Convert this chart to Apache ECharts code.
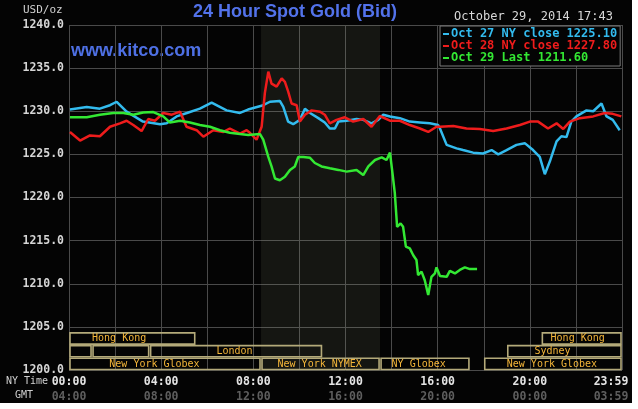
<!DOCTYPE html>
<html>
<head>
<meta charset="utf-8" />
<title>24 Hour Spot Gold</title>
<script src="https://cdn.jsdelivr.net/npm/echarts@6/dist/echarts.min.js"></script>
<style>
  body { margin: 0; background: #fff; }
  #main { width: 632px; height: 403px; background: #040404; }
</style>
</head>
<body>
<div id="main"></div>
<script type="text/javascript">

  // hours after 00:00 NY time, price in USD/oz
  var oct27 = [[0.04,1230.2],[0.77,1230.5],[1.34,1230.3],[1.78,1230.7],[2.07,1231.1],[2.5,1229.95],[3.21,1228.8],[3.95,1228.5],[4.24,1228.6],[4.67,1229.4],[5.12,1229.8],[5.68,1230.3],[6.19,1231.0],[6.84,1230.1],[7.42,1229.8],[7.77,1230.2],[8.43,1230.7],[8.72,1231.1],[9.15,1231.2],[9.3,1230.5],[9.51,1228.8],[9.73,1228.5],[10.02,1229.0],[10.24,1230.3],[10.46,1229.8],[10.82,1229.2],[11.1,1228.7],[11.32,1228.0],[11.54,1228.0],[11.69,1228.8],[12.05,1228.9],[12.48,1229.1],[12.77,1229.0],[13.13,1228.6],[13.42,1229.0],[13.64,1229.6],[13.93,1229.4],[14.36,1229.2],[14.79,1228.8],[15.23,1228.7],[15.66,1228.6],[16.02,1228.4],[16.1,1228.0],[16.39,1226.1],[16.82,1225.7],[17.1,1225.5],[17.54,1225.2],[17.97,1225.1],[18.34,1225.5],[18.63,1225.0],[18.99,1225.5],[19.42,1226.1],[19.78,1226.3],[20.14,1225.5],[20.43,1224.7],[20.65,1222.7],[20.87,1224.2],[21.16,1226.5],[21.37,1227.1],[21.59,1227.0],[21.8,1228.8],[22.02,1229.4],[22.46,1230.1],[22.75,1230.0],[23.11,1230.9],[23.33,1229.4],[23.6,1229.0],[23.9,1227.8]];

  var oct28 = [[0.04,1227.6],[0.48,1226.6],[0.91,1227.2],[1.34,1227.1],[1.78,1228.2],[2.21,1228.6],[2.5,1228.9],[2.79,1228.4],[3.15,1227.7],[3.44,1229.1],[3.73,1228.9],[4.09,1229.8],[4.46,1229.6],[4.82,1229.95],[5.1,1228.2],[5.54,1227.8],[5.83,1227.05],[6.26,1227.8],[6.7,1227.6],[6.98,1228.0],[7.42,1227.4],[7.71,1227.8],[7.85,1227.5],[8.14,1226.7],[8.36,1228.2],[8.5,1232.1],[8.65,1234.6],[8.79,1233.2],[9.01,1232.85],[9.23,1233.8],[9.37,1233.4],[9.51,1232.3],[9.66,1230.9],[9.88,1230.7],[10.02,1228.8],[10.24,1229.6],[10.53,1230.1],[10.89,1229.95],[11.1,1229.6],[11.32,1228.6],[11.61,1229.0],[11.97,1229.3],[12.33,1228.8],[12.77,1229.1],[13.13,1228.2],[13.49,1229.45],[13.93,1228.9],[14.36,1228.9],[14.79,1228.4],[15.23,1228.0],[15.59,1227.6],[15.95,1228.2],[16.1,1228.2],[16.68,1228.3],[17.25,1228.0],[17.83,1227.95],[18.41,1227.7],[18.99,1228.0],[19.57,1228.4],[20.0,1228.8],[20.36,1228.8],[20.79,1228.0],[21.16,1228.6],[21.45,1227.95],[21.74,1228.8],[22.17,1229.2],[22.75,1229.4],[23.25,1229.8],[23.6,1229.7],[23.97,1229.4]];

  var oct29 = [[0.04,1229.3],[0.77,1229.3],[1.34,1229.6],[1.92,1229.8],[2.36,1229.8],[2.79,1229.6],[3.22,1229.85],[3.66,1229.9],[4.09,1229.4],[4.38,1228.7],[4.82,1228.9],[5.25,1228.7],[5.68,1228.4],[6.12,1228.2],[6.55,1227.8],[6.98,1227.5],[7.42,1227.35],[7.78,1227.25],[7.85,1227.1],[8.29,1227.35],[8.43,1226.7],[8.65,1224.7],[8.79,1223.6],[8.94,1222.2],[9.15,1222.0],[9.37,1222.4],[9.59,1223.2],[9.8,1223.6],[9.95,1224.7],[10.17,1224.7],[10.46,1224.6],[10.67,1224.0],[10.96,1223.6],[11.32,1223.4],[11.69,1223.2],[12.05,1223.0],[12.48,1223.2],[12.77,1222.6],[12.99,1223.6],[13.28,1224.35],[13.57,1224.65],[13.78,1224.35],[13.93,1225.2],[14.04,1222.8],[14.14,1220.5],[14.24,1216.6],[14.39,1217.0],[14.5,1216.6],[14.62,1214.3],[14.79,1214.1],[14.94,1213.3],[15.08,1212.75],[15.15,1211.0],[15.3,1211.4],[15.44,1210.4],[15.59,1208.7],[15.73,1210.8],[15.88,1211.2],[15.95,1211.9],[16.1,1210.9],[16.39,1210.8],[16.53,1211.5],[16.75,1211.2],[16.96,1211.6],[17.18,1211.9],[17.4,1211.7],[17.71,1211.7]];

  var seriesNames = ['Oct 27 NY close 1225.10', 'Oct 28 NY close 1227.80', 'Oct 29 Last 1211.60'];
  var nyTicks = ['00:00', '04:00', '08:00', '12:00', '16:00', '20:00', '23:59'];
  var gmtTicks = ['04:00', '08:00', '12:00', '16:00', '20:00', '00:00', '03:59'];

  // NYMEX pit hours (shaded)
  var nymexHours = [8 + 20 / 60, 13.5];

  // market sessions: row, from, to, label, label starts at
  var sessions = [
    [0, 0, 5.5, 'Hong Kong', 1.0],
    [0, 20.5, 24, 'Hong Kong', 20.9],
    [1, 0, 1, '', 0],
    [1, 1, 3.5, '', 0],
    [1, 3.5, 11, 'London', 6.4],
    [1, 19, 24, 'Sydney', 20.2],
    [2, 0, 8 + 20 / 60, 'New York Globex', 1.75],
    [2, 8 + 20 / 60, 13.5, 'New York NYMEX', 9.05],
    [2, 13.5, 17.4, 'NY Globex', 14.0],
    [2, 18, 24, 'New York Globex', 19.0]
  ];

  var colors = ['#33bbee', '#ee1c1c', '#33e833'];
  var mono = 'DejaVu Sans Mono';
  var gridColor = '#4a4a4a';

  var myChart = echarts.init(document.getElementById('main'));

  function lineSeries(i, data) {
    return {
      name: seriesNames[i],
      type: 'line',
      data: data,
      color: colors[i],
      showSymbol: false,
      lineStyle: { width: 2.5, color: colors[i] },
      emphasis: { disabled: true },
      z: 3 + i
    };
  }

  myChart.setOption({
    animation: false,
    backgroundColor: '#040404',
    title: {
      text: '24 Hour Spot Gold (Bid)',
      left: 193,
      top: 3,
      padding: 0,
      textStyle: { color: '#5272ea', fontFamily: 'Liberation Sans', fontSize: 18, fontWeight: 'bold' }
    },
    legend: {
      orient: 'vertical',
      left: 440,
      top: 26,
      padding: [2, 3, 2, 3],
      itemGap: 0,
      itemWidth: 6,
      itemHeight: 2,
      icon: 'rect',
      backgroundColor: '#040404',
      borderColor: '#7a7a7a',
      borderWidth: 1,
      selectedMode: false,
      textStyle: { fontFamily: mono, fontSize: 12, fontWeight: 'bold', lineHeight: 12, padding: [0, 0, 0, -3] },
      data: seriesNames.map(function (n, i) {
        return { name: n, textStyle: { color: colors[i] } };
      })
    },
    grid: { left: 69, right: 10, top: 25, bottom: 33 },
    xAxis: [{
      type: 'value',
      min: 0,
      max: 24,
      interval: 2,
      axisLine: { show: false },
      axisTick: { show: false },
      splitLine: { show: true, lineStyle: { color: gridColor, width: 1 } },
      axisLabel: {
        margin: 6,
        color: '#e4e4e4',
        fontFamily: mono,
        fontSize: 11.5,
        fontWeight: 'bold',
        formatter: function (v) {
          if (v % 4 !== 0) return '';
          if (v === 24) return '{e|' + nyTicks[6] + '}';
          return nyTicks[v / 4];
        },
        rich: { e: { color: '#e4e4e4', fontFamily: mono, fontSize: 11.5, fontWeight: 'bold', padding: [0, 22, 0, 0] } }
      }
    }, {
      type: 'value',
      min: 0,
      max: 24,
      interval: 2,
      position: 'bottom',
      offset: 15,
      axisLine: { show: false },
      axisTick: { show: false },
      splitLine: { show: false },
      axisLabel: {
        margin: 6,
        color: '#5e5e5e',
        fontFamily: mono,
        fontSize: 11.5,
        fontWeight: 'bold',
        formatter: function (v) {
          if (v % 4 !== 0) return '';
          if (v === 24) return '{e|' + gmtTicks[6] + '}';
          return gmtTicks[v / 4];
        },
        rich: { e: { color: '#5e5e5e', fontFamily: mono, fontSize: 11.5, fontWeight: 'bold', padding: [0, 22, 0, 0] } }
      }
    }],
    yAxis: {
      type: 'value',
      min: 1200,
      max: 1240,
      interval: 5,
      axisLine: { show: false },
      axisTick: { show: false },
      splitLine: { show: true, lineStyle: { color: gridColor, width: 1 } },
      axisLabel: {
        margin: 5,
        color: '#d6d6d6',
        fontFamily: mono,
        fontSize: 11.5,
        fontWeight: 'bold',
        formatter: function (v) { return v.toFixed(1); }
      }
    },
    graphic: [
      { type: 'text', left: 71, top: 42, style: { text: 'www.kitco.com', fill: '#4e70e4', font: 'bold 18px "Liberation Sans"' } },
      { type: 'text', right: 19, top: 11, style: { text: 'October 29, 2014 17:43', fill: '#d8d8d8', font: '12px "DejaVu Sans Mono"' } },
      { type: 'text', left: 23, top: 5, style: { text: 'USD/oz', fill: '#d0d0d0', font: '11px "DejaVu Sans Mono"' } },
      { type: 'text', left: 6, top: 376, style: { text: 'NY Time', fill: '#d0d0d0', font: '10px "DejaVu Sans Mono"' } },
      { type: 'text', left: 15, top: 390, style: { text: 'GMT', fill: '#d0d0d0', font: '10px "DejaVu Sans Mono"' } }
    ],
    series: [
      {
        type: 'custom',
        name: 'sessions',
        data: sessions.map(function (s) { return [s[0], s[1], s[2]]; }),
        encode: { x: [1, 2], y: 0 },
        silent: true,
        z: 2,
        markArea: {
          silent: true,
          itemStyle: { color: 'rgba(165,175,140,0.11)' },
          data: [[{ xAxis: nymexHours[0] }, { xAxis: nymexHours[1] }]]
        },
        renderItem: function (params, api) {
          var s = sessions[params.dataIndex];
          var bottom = api.coord([0, 1200])[1];
          var rowH = 12.7;
          var x0 = api.coord([s[1], 1200])[0];
          var x1 = api.coord([s[2], 1200])[0];
          var y = bottom - (3 - s[0]) * rowH;
          var children = [{
            type: 'rect',
            shape: { x: x0 + 1, y: y + 1, width: x1 - x0 - 2, height: rowH - 1.5 },
            style: { fill: 'none', stroke: '#b4aa7a', lineWidth: 1.6 }
          }];
          if (s[3]) {
            children.push({
              type: 'text',
              x: api.coord([s[4], 1200])[0],
              y: y + rowH / 2 + 0.5,
              style: { text: s[3], fill: '#f4b63a', font: '10px "DejaVu Sans Mono"', verticalAlign: 'middle', align: 'left' }
            });
          }
          return { type: 'group', children: children };
        }
      },
      lineSeries(0, oct27),
      lineSeries(1, oct28),
      lineSeries(2, oct29)
    ]
  });

</script>
</body>
</html>
